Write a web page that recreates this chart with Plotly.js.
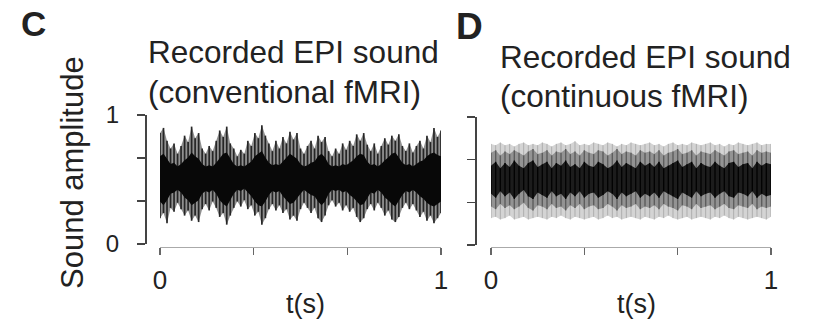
<!DOCTYPE html>
<html>
<head>
<meta charset="utf-8">
<script src="https://cdn.plot.ly/plotly-3.0.1.min.js"></script>
<style>html,body{margin:0;padding:0;background:#fff;}#chart{width:817px;height:323px;}</style>
</head>
<body>
<div id="chart"></div>
<script>
// ---- Panel C: conventional fMRI, envelope of recorded EPI sound ----
const upperC = [0.86,0.90,0.80,0.74,0.78,0.70,0.76,0.84,0.79,0.91,0.82,0.86,0.74,0.70,0.76,0.72,0.80,0.88,0.83,0.91,
  0.78,0.74,0.68,0.73,0.70,0.80,0.76,0.86,0.82,0.92,0.84,0.78,0.72,0.80,0.74,0.83,0.78,0.87,0.81,0.86,
  0.74,0.70,0.76,0.80,0.74,0.84,0.79,0.83,0.72,0.68,0.74,0.70,0.78,0.73,0.80,0.76,0.85,0.80,0.86,0.77,
  0.72,0.78,0.70,0.76,0.82,0.77,0.84,0.80,0.85,0.76,0.72,0.78,0.71,0.76,0.80,0.74,0.84,0.79,0.90,0.83,0.88];
const lowerC = [0.20,0.24,0.16,0.28,0.25,0.32,0.27,0.22,0.26,0.18,0.22,0.17,0.27,0.31,0.26,0.33,0.28,0.21,0.24,0.15,
  0.22,0.28,0.33,0.29,0.34,0.27,0.30,0.22,0.25,0.15,0.20,0.27,0.31,0.26,0.30,0.24,0.27,0.19,0.22,0.18,
  0.27,0.32,0.28,0.24,0.28,0.20,0.17,0.22,0.30,0.34,0.29,0.32,0.26,0.30,0.25,0.28,0.21,0.17,0.20,0.27,
  0.31,0.26,0.32,0.28,0.22,0.26,0.19,0.17,0.21,0.28,0.32,0.27,0.31,0.26,0.21,0.25,0.18,0.22,0.16,0.20,0.24];
const coreHiC = [0.68,0.70,0.66,0.62,0.63,0.60,0.62,0.65,0.67,0.71,0.68,0.66,0.62,0.60,0.61,0.60,0.63,0.67,0.70,0.71,
  0.66,0.62,0.60,0.61,0.60,0.62,0.64,0.68,0.70,0.72,0.67,0.63,0.61,0.62,0.61,0.64,0.67,0.70,0.68,0.66,
  0.62,0.60,0.61,0.63,0.64,0.68,0.70,0.67,0.62,0.60,0.61,0.60,0.62,0.61,0.63,0.65,0.68,0.70,0.69,0.64,
  0.61,0.62,0.60,0.62,0.65,0.67,0.70,0.71,0.67,0.63,0.61,0.62,0.60,0.62,0.64,0.65,0.68,0.70,0.71,0.69,0.68];
const coreLoC = [0.33,0.30,0.34,0.39,0.40,0.42,0.40,0.36,0.34,0.30,0.32,0.34,0.39,0.41,0.40,0.42,0.39,0.34,0.31,0.29,
  0.34,0.39,0.42,0.41,0.43,0.40,0.37,0.33,0.30,0.29,0.33,0.38,0.41,0.40,0.41,0.37,0.34,0.31,0.32,0.35,
  0.39,0.42,0.40,0.38,0.37,0.33,0.30,0.33,0.39,0.42,0.41,0.42,0.40,0.41,0.38,0.36,0.33,0.30,0.31,0.36,
  0.40,0.39,0.42,0.40,0.36,0.34,0.31,0.29,0.33,0.38,0.41,0.40,0.42,0.40,0.37,0.35,0.32,0.30,0.29,0.31,0.33];

// ---- Panel D: continuous fMRI ----
const outerHiD = [0.79,0.78,0.80,0.78,0.79,0.77,0.79,0.80,0.78,0.79,0.78,0.80,0.79,0.77,0.79,0.80,0.78,0.79,0.81,0.78,
  0.79,0.78,0.80,0.79,0.78,0.80,0.79,0.77,0.79,0.78,0.80,0.79,0.78,0.79,0.80,0.78,0.79,0.77,0.79,0.80,
  0.78,0.79,0.78,0.80,0.79,0.78,0.79,0.80,0.78,0.79,0.77,0.79,0.78,0.80,0.79,0.78,0.79,0.80,0.78,0.79,0.79];
const outerLoD = [0.21,0.22,0.20,0.21,0.23,0.20,0.21,0.22,0.20,0.21,0.22,0.21,0.20,0.22,0.21,0.23,0.21,0.20,0.22,0.21,
  0.20,0.21,0.22,0.20,0.21,0.23,0.21,0.22,0.20,0.21,0.22,0.21,0.20,0.22,0.21,0.20,0.22,0.21,0.23,0.21,
  0.20,0.21,0.22,0.20,0.21,0.22,0.21,0.20,0.22,0.21,0.23,0.21,0.20,0.22,0.21,0.20,0.21,0.22,0.21,0.20,0.22];
const midHiD = [0.72,0.74,0.70,0.73,0.71,0.74,0.72,0.70,0.73,0.75,0.71,0.72,0.74,0.70,0.73,0.72,0.75,0.71,0.73,0.70,
  0.74,0.72,0.71,0.74,0.73,0.70,0.72,0.75,0.71,0.73,0.72,0.70,0.74,0.72,0.73,0.71,0.74,0.70,0.72,0.73,
  0.75,0.71,0.72,0.74,0.70,0.73,0.72,0.71,0.74,0.72,0.70,0.73,0.74,0.71,0.72,0.73,0.70,0.74,0.72,0.73,0.72];
const midLoD = [0.30,0.28,0.32,0.29,0.31,0.28,0.30,0.33,0.29,0.27,0.31,0.30,0.28,0.32,0.29,0.30,0.27,0.31,0.29,0.32,
  0.28,0.30,0.31,0.28,0.29,0.32,0.30,0.27,0.31,0.29,0.30,0.32,0.28,0.30,0.29,0.31,0.28,0.32,0.30,0.29,
  0.27,0.31,0.30,0.28,0.32,0.29,0.30,0.31,0.28,0.30,0.32,0.29,0.28,0.31,0.30,0.29,0.32,0.28,0.30,0.29,0.30];
const coreHiD = [0.62,0.65,0.60,0.64,0.61,0.66,0.62,0.60,0.64,0.66,0.61,0.63,0.65,0.60,0.64,0.62,0.66,0.61,0.63,0.60,
  0.65,0.62,0.61,0.65,0.63,0.60,0.62,0.66,0.61,0.64,0.62,0.60,0.65,0.62,0.64,0.61,0.65,0.60,0.62,0.64,
  0.66,0.61,0.63,0.65,0.60,0.64,0.62,0.61,0.65,0.62,0.60,0.64,0.65,0.61,0.63,0.64,0.60,0.65,0.62,0.64,0.63];
const coreLoD = [0.40,0.37,0.42,0.38,0.41,0.36,0.40,0.43,0.38,0.36,0.41,0.39,0.37,0.42,0.38,0.40,0.36,0.41,0.38,0.42,
  0.37,0.40,0.41,0.37,0.39,0.42,0.40,0.36,0.41,0.38,0.40,0.42,0.37,0.40,0.38,0.41,0.37,0.42,0.40,0.38,
  0.36,0.41,0.39,0.37,0.42,0.38,0.40,0.41,0.37,0.40,0.42,0.38,0.37,0.41,0.40,0.38,0.42,0.37,0.40,0.38,0.39];

// tick labels
const xTickVals = [0, 1/3, 2/3, 1];
const xTickText = ['0', '', '', '1'];
const yTickVals = [0, 1/3, 2/3, 1];
const yTickText = ['0', '', '', '1'];

// uniform sampling grid over 0..1 s for each envelope array
function timeOf(arr) { return arr.map((_, i) => i / (arr.length - 1)); }
function band(hi, lo, color, xa, ya) {
  const th = timeOf(hi), tl = timeOf(lo);
  return {
    x: th.concat(tl.slice().reverse()),
    y: hi.concat(lo.slice().reverse()),
    type: 'scatter', mode: 'lines', fill: 'toself',
    fillcolor: color, line: {width: 0, color: color, shape: 'linear'},
    hoverinfo: 'skip', showlegend: false, xaxis: xa, yaxis: ya
  };
}
// one vertical stroke per sample, from the low to the high envelope value
function strokes(hi, lo, color, width, xa, ya) {
  const t = timeOf(hi), x = [], y = [];
  for (let i = 0; i < hi.length; i++) { x.push(t[i], t[i], null); y.push(lo[i], hi[i], null); }
  return {
    x: x, y: y, type: 'scatter', mode: 'lines', connectgaps: false,
    line: {width: width, color: color},
    hoverinfo: 'skip', showlegend: false, xaxis: xa, yaxis: ya
  };
}

const data = [
  band(upperC, lowerC, 'rgba(70,70,70,0.6)', 'x', 'y'),
  strokes(upperC, lowerC, 'rgba(25,25,25,0.9)', 1.7, 'x', 'y'),
  band(coreHiC, coreLoC, '#080808', 'x', 'y'),
  band(outerHiD, outerLoD, 'rgba(212,212,212,1)', 'x2', 'y2'),
  strokes(outerHiD, outerLoD, 'rgba(170,170,170,0.9)', 1, 'x2', 'y2'),
  band(midHiD, midLoD, 'rgba(140,140,140,0.9)', 'x2', 'y2'),
  strokes(midHiD, midLoD, 'rgba(80,80,80,0.8)', 1.4, 'x2', 'y2'),
  band(coreHiD, coreLoD, '#1c1c1c', 'x2', 'y2'),
  strokes(coreHiD, coreLoD, 'rgba(0,0,0,0.9)', 1.4, 'x2', 'y2')
];

const W = 817, H = 323;
const px = v => v / W, py = v => (H - v) / H;
const FONT = 'Liberation Sans, Arial, sans-serif';
const TXT = '#222';

function xAxis(d0, d1) {
  return {
    domain: [px(d0), px(d1)], range: [0, 1], anchor: 'free', position: py(247),
    showline: true, linecolor: '#aaa', linewidth: 1,
    ticks: 'outside', ticklen: 7, tickwidth: 1.5, tickcolor: '#666',
    tickvals: xTickVals, ticktext: xTickText, ticklabelstandoff: 3,
    tickfont: {family: FONT, size: 26, color: TXT},
    showgrid: false, zeroline: false, fixedrange: true
  };
}
function yAxis(top, bot, pos, labels) {
  return {
    domain: [py(bot), py(top)], range: [0, 1], anchor: 'free', position: px(pos),
    showline: true, linecolor: '#444', linewidth: 2,
    ticks: 'outside', ticklen: 8, tickwidth: 1.5, tickcolor: '#444',
    tickvals: yTickVals, ticktext: yTickText, showticklabels: labels, ticklabelstandoff: 13,
    tickfont: {family: FONT, size: 24, color: TXT},
    showgrid: false, zeroline: false, fixedrange: true
  };
}

function ann(text, x, y, size, opts) {
  return Object.assign({
    text: text, x: px(x), y: py(y), xref: 'paper', yref: 'paper',
    showarrow: false, xanchor: 'left', yanchor: 'middle',
    font: {family: FONT, size: size, color: TXT}
  }, opts || {});
}

const layout = {
  width: W, height: H,
  margin: {l: 0, r: 0, t: 0, b: 0},
  paper_bgcolor: '#fff', plot_bgcolor: 'rgba(0,0,0,0)',
  showlegend: false,
  xaxis: xAxis(160, 441),
  yaxis: yAxis(115, 244, 146, true),
  xaxis2: xAxis(491, 771),
  yaxis2: yAxis(117, 245, 476, false),
  annotations: [
    ann('<b>C</b>', 33, 24, 35, {xanchor: 'center'}),
    ann('<b>D</b>', 469, 26, 37, {xanchor: 'center'}),
    ann('Recorded EPI sound', 146, 52, 31.5),
    ann('(conventional fMRI)', 146, 92, 31.5),
    ann('Recorded EPI sound', 498, 57, 31.5),
    ann('(continuous fMRI)', 498, 96, 31.5),
    ann('Sound amplitude', 72, 173, 31, {xanchor: 'center', textangle: -90}),
    ann('t(s)', 305, 304, 27, {xanchor: 'center'}),
    ann('t(s)', 636, 304, 27, {xanchor: 'center'})
  ]
};

Plotly.newPlot('chart', data, layout, {staticPlot: true, displayModeBar: false});
</script>
</body>
</html>
